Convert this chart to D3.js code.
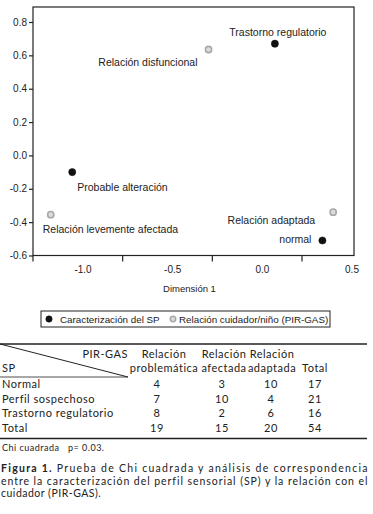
<!DOCTYPE html>
<html lang="es">
<head>
<meta charset="UTF-8">
<title>Análisis de correspondencia SP / PIR-GAS</title>
<script src="https://d3js.org/d3.v7.min.js"></script>
<style>
  body { margin: 0; background: #fff; }
  svg { display: block; }
  .plot text { font-family: "Liberation Sans", Arial, sans-serif; fill: #222; }
  .tbl text { font-family: "Lato", "Open Sans", sans-serif; fill: #222; letter-spacing: 0.5px; }
</style>
</head>
<body>
<svg width="373" height="514"></svg>
<script>
// scatter points (Dimensión 1, Dimensión 2)
const pointNames = ["Trastorno regulatorio", "Relación disfuncional", "Probable alteración",
                    "Relación levemente afectada", "Relación adaptada", "normal"];
const dim1 = [0.07, -0.30, -1.06, -1.18, 0.395, 0.335];
const dim2 = [0.67, 0.635, -0.10, -0.355, -0.34, -0.51];
const pointGroup = [0, 1, 0, 1, 1, 0];
const groupNames = ["Caracterización del SP", "Relación cuidador/niño (PIR-GAS)"];
const xTicks = [-1.0, -0.5, 0.0, 0.5];
const yTicks = [-0.6, -0.4, -0.2, 0.0, 0.2, 0.4, 0.6, 0.8];

// table
const colHeaders = [["Relación", "problemática"], ["Relación", "afectada"], ["Relación", "adaptada"], ["", "Total"]];
const rowLabels = ["Normal", "Perfil sospechoso", "Trastorno regulatorio", "Total"];
const tableValues = [[4, 3, 10, 17], [7, 10, 4, 21], [8, 2, 6, 16], [19, 15, 20, 54]];
const chiNote = ["Chi cuadrada", "p= 0.03."];
const caption = ["Prueba de Chi cuadrada y análisis de correspondencia",
                 "entre la caracterización del perfil sensorial (SP) y la relación con el",
                 "cuidador (PIR-GAS)."];

const svg = d3.select("svg");
const frame = {left: 33, right: 354, top: 7, bottom: 255.5};

const x = d3.scaleLinear().domain([-1.0, 0.5]).range([83, 352]);
const y = d3.scaleLinear().domain([-0.6, 0.8]).range([255.5, 22]);

const plot = svg.append("g").attr("class", "plot");

plot.append("rect")
    .attr("x", frame.left).attr("y", frame.top)
    .attr("width", frame.right - frame.left).attr("height", frame.bottom - frame.top)
    .attr("fill", "none").attr("stroke", "#222").attr("stroke-width", 1.2);

// y axis
const yAxis = plot.append("g")
    .attr("transform", "translate(" + frame.left + ",0)")
    .call(d3.axisLeft(y).tickValues(yTicks).tickSize(4).tickPadding(2));
yAxis.select(".domain").remove();
yAxis.selectAll("line").attr("stroke", "#222").attr("stroke-width", 1.2);
yAxis.selectAll("text").attr("font-size", 10).attr("fill", "#333")
    .text(d => d3.format(".1f")(d).replace("−", "-"));

// x tick marks (offset from labels, as in the source figure)
const x0 = x.invert(frame.left);
const xMarks = d3.range(x0, 0.5, 0.5);
plot.append("g").selectAll("line").data(xMarks).join("line")
    .attr("x1", d => x(d)).attr("x2", d => x(d))
    .attr("y1", frame.bottom).attr("y2", frame.bottom + 6)
    .attr("stroke", "#222").attr("stroke-width", 1.2);

plot.append("g").selectAll("text").data(xTicks).join("text")
    .attr("x", d => x(d)).attr("y", frame.bottom + 17)
    .attr("text-anchor", "middle").attr("font-size", 10).attr("fill", "#333")
    .text(d => d3.format(".1f")(d).replace("−", "-"));

plot.append("text")
    .attr("x", (frame.left + frame.right) / 2 - 4).attr("y", frame.bottom + 36)
    .attr("text-anchor", "middle").attr("font-size", 9.5)
    .text("Dimensión 1");

// points + labels
const labelPos = {
  "Trastorno regulatorio": [3, -8, "middle"],
  "Relación disfuncional": [-11, 16, "end"],
  "Probable alteración": [5, 19, "start"],
  "Relación levemente afectada": [-8, 18, "start"],
  "Relación adaptada": [-18, 12, "end"],
  "normal": [-11, 3, "end"]
};
const pts = pointNames.map((n, i) => ({name: n, x: dim1[i], y: dim2[i], g: pointGroup[i]}));

function marker(sel) {
  sel.attr("r", d => d.g === 0 ? 3.6 : 3.1)
     .attr("fill", d => d.g === 0 ? "#111" : "#dcdcdc")
     .attr("stroke", d => d.g === 0 ? "#111" : "#a8a8a8")
     .attr("stroke-width", d => d.g === 0 ? 0.5 : 1.6);
}

plot.append("g").selectAll("circle").data(pts).join("circle")
    .attr("cx", d => x(d.x)).attr("cy", d => y(d.y))
    .call(marker);

plot.append("g").selectAll("text").data(pts).join("text")
    .attr("x", d => x(d.x) + labelPos[d.name][0])
    .attr("y", d => y(d.y) + labelPos[d.name][1])
    .attr("text-anchor", d => labelPos[d.name][2])
    .attr("font-size", 10.5)
    .text(d => d.name);

// legend
const leg = plot.append("g");
leg.append("rect").attr("x", 41).attr("y", 311).attr("width", 289).attr("height", 16)
   .attr("fill", "none").attr("stroke", "#222").attr("stroke-width", 1);
const legX = [49, 173];
leg.selectAll("circle").data(groupNames.map((n, i) => ({name: n, g: i}))).join("circle")
   .attr("cx", (d, i) => legX[i]).attr("cy", 319)
   .call(marker)
   .attr("r", d => d.g === 0 ? 3.2 : 2.7);
leg.selectAll("text").data(groupNames).join("text")
   .attr("x", (d, i) => legX[i] + (i === 0 ? 11 : 6)).attr("y", 322.5)
   .attr("font-size", 9.8).attr("fill", "#333")
   .text(d => d);

// table
const tbl = svg.append("g").attr("class", "tbl");
const tTop = 344, tRight = 367;
const colX = [164, 224, 272, 315];
const headY = [357.5, 372];
const rowY = [388, 402.5, 417, 431.5];

tbl.append("line").attr("x1", 0).attr("x2", tRight).attr("y1", tTop).attr("y2", tTop)
   .attr("stroke", "#222").attr("stroke-width", 1.3);
tbl.append("line").attr("x1", 0).attr("y1", tTop).attr("x2", 128).attr("y2", 377)
   .attr("stroke", "#222").attr("stroke-width", 1);
tbl.append("line").attr("x1", 0).attr("x2", 128).attr("y1", 377).attr("y2", 377)
   .attr("stroke", "#222").attr("stroke-width", 0.8);
tbl.append("line").attr("x1", 0).attr("x2", tRight).attr("y1", 438.5).attr("y2", 438.5)
   .attr("stroke", "#222").attr("stroke-width", 1.3);

tbl.append("text").attr("x", 128).attr("y", headY[0]).attr("text-anchor", "end")
   .attr("font-size", 11).text("PIR-GAS");
tbl.append("text").attr("x", 2).attr("y", headY[1]).attr("font-size", 11).text("SP");

colHeaders.forEach((h, c) => {
  h.forEach((t, k) => {
    tbl.append("text").attr("x", colX[c]).attr("y", headY[k])
       .attr("text-anchor", "middle").attr("font-size", 11).text(t);
  });
});

const numX = [157, 222, 271, 315];
rowLabels.forEach((r, i) => {
  tbl.append("text").attr("x", 2).attr("y", rowY[i]).attr("font-size", 11).text(r);
  tableValues[i].forEach((v, c) => {
    tbl.append("text").attr("x", numX[c]).attr("y", rowY[i])
       .attr("text-anchor", "middle").attr("font-size", 11).text(v);
  });
});

tbl.append("text").attr("x", 2).attr("y", 451).attr("font-size", 9).attr("letter-spacing", 0.2).text(chiNote[0]);
tbl.append("text").attr("x", 68).attr("y", 451).attr("font-size", 9).attr("letter-spacing", 0.2).text(chiNote[1]);

// caption
const capY = [472, 484.5, 497];
caption.forEach((line, i) => {
  const t = tbl.append("text").attr("x", 1).attr("y", capY[i]).attr("font-size", 10.5);
  if (i === 0) {
    t.append("tspan").attr("font-weight", "bold").text("Figura 1.");
    t.append("tspan").text(" " + line);
  } else {
    t.text(line);
  }
  if (i < 2) t.attr("textLength", 367).attr("lengthAdjust", "spacing");
});
</script>
</body>
</html>
